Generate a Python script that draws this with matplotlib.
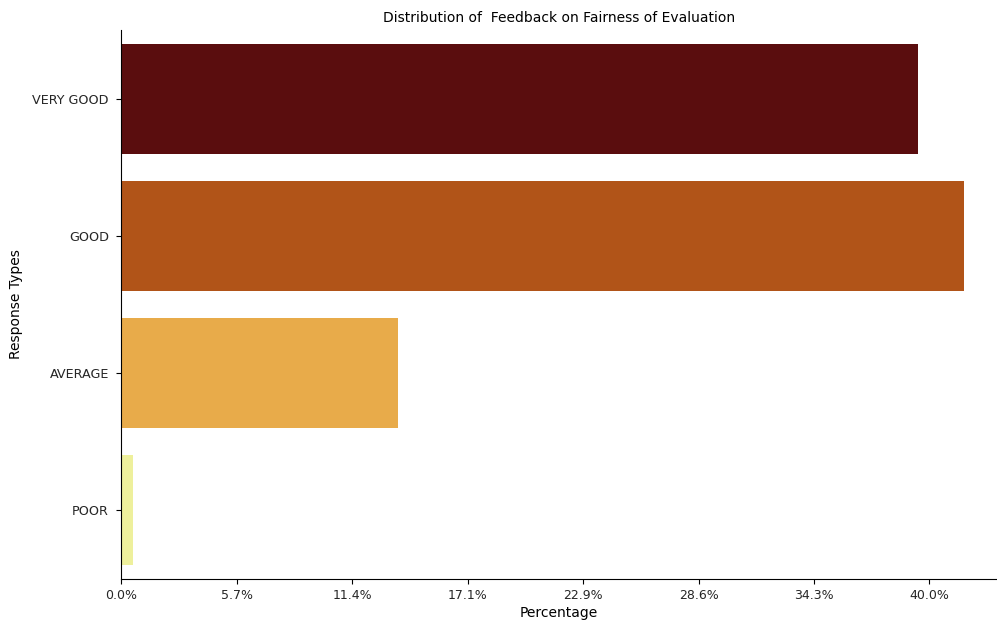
import numpy as np
import matplotlib
matplotlib.use("Agg")
import matplotlib.pyplot as plt

# ---- data ----
categories = ["VERY GOOD", "GOOD", "AVERAGE", "POOR"]
counts = [69, 73, 24, 1]
bar_colors = ["#5a0d0e", "#b15418", "#e8ab4a", "#eef09c"]
tick_values = [0, 10, 20, 30, 40, 50, 60, 70]
tick_labels = ["0.0%", "5.7%", "11.4%", "17.1%", "22.9%", "28.6%", "34.3%", "40.0%"]

W, H, DPI = 997, 627, 100
fig = plt.figure(figsize=(W / DPI, H / DPI), dpi=DPI)
ax = fig.add_axes([121.3 / W, 48 / H, (W - 121.3) / W, 549 / H])

y = np.arange(len(categories))
ax.barh(y, counts, height=0.8, color=bar_colors)

ax.set_ylim(len(categories) - 0.5, -0.5)
ax.set_xlim(0, 75.85)
ax.set_yticks(y)
ax.set_yticklabels(categories, fontsize=9.2, color="#262626")
ax.tick_params(axis="y", pad=5.5)
ax.set_xticks(tick_values)
ax.set_xticklabels(tick_labels, fontsize=9, color="#262626")

for side in ("top", "right"):
    ax.spines[side].set_visible(False)

ax.set_title("Distribution of  Feedback on Fairness of Evaluation", fontsize=10)
ax.set_xlabel("Percentage", fontsize=10, labelpad=3)
ax.set_ylabel("Response Types", fontsize=10, labelpad=7)

fig.savefig("out.png", dpi=DPI)
